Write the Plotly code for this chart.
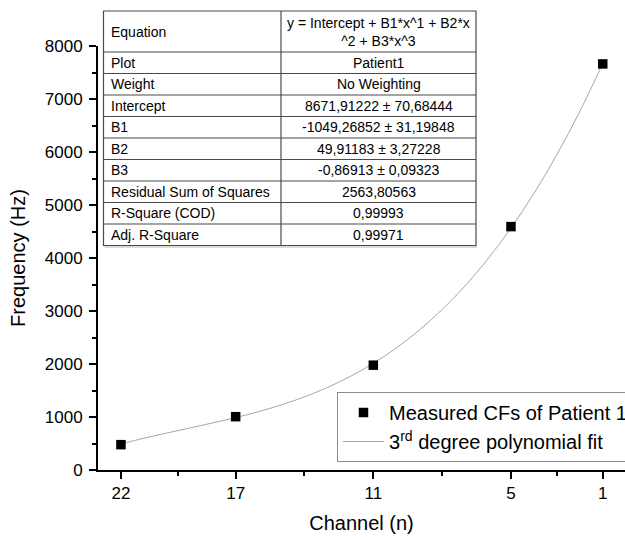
import plotly.graph_objects as go

# ---------------- data ----------------
channels = [22, 17, 11, 5, 1]
measured_cf = [478, 1006, 1978, 4592, 7662]

fit_channels = [1, 2, 3, 4, 5, 6, 7, 8, 9, 10, 11, 12, 13, 14, 15, 16, 17, 18, 19, 20, 21, 22]
fit_values = [7671.7, 6766.1, 5949.8, 5217.8, 4564.7, 3985.4, 3474.6, 3027.1, 2637.8, 2301.3,
              2012.5, 1766.1, 1557.0, 1380.0, 1229.7, 1101.1, 988.8, 887.7, 792.6, 698.2, 599.4, 490.9]

x_tick_vals = [22, 17, 11, 5, 1]
x_tick_text = ["22", "17", "11", "5", "1"]
x_minor_vals = [19.5, 14, 8, 3]

table_labels = ["Equation", "Plot", "Weight", "Intercept", "B1", "B2", "B3",
                "Residual Sum of Squares", "R-Square (COD)", "Adj. R-Square"]
table_values = ["y = Intercept + B1*x^1 + B2*x<br>^2 + B3*x^3", "Patient1", "No Weighting",
                "8671,91222 ± 70,68444", "-1049,26852 ± 31,19848", "49,91183 ± 3,27228",
                "-0,86913 ± 0,09323", "2563,80563", "0,99993", "0,99971"]

series_names = ["Measured CFs of Patient 1", "3<sup>rd</sup> degree polynomial fit"]

# ---------------- layout geometry (pixels) ----------------
W, H = 625, 537
ML, MR, MT, MB = 98, 0, 46, 67
PW, PH = W - ML - MR, H - MT - MB


def pxx(x):
    return (x - ML) / PW


def pxy(y):
    return (H - MB - y) / PH


FONT = "Liberation Sans, Arial, sans-serif"

fig = go.Figure()
fig.add_trace(go.Scatter(
    x=fit_channels, y=fit_values, mode="lines", name=series_names[1],
    line=dict(color="#a6a6a6", width=1, shape="spline"),
))
fig.add_trace(go.Scatter(
    x=channels, y=measured_cf, mode="markers", name=series_names[0],
    marker=dict(symbol="square", size=9.5, color="black"),
))

# ---------------- table (shapes + annotations) ----------------
tx0, txm, tx1 = 103.5, 281, 476
row_edges = [11, 52, 73.5, 95, 116.5, 138, 159.5, 181, 202.5, 224, 245.5]
shapes = []
line_col = "#4a4a4a"
# shadow line
shapes.append(dict(type="line", xref="paper", yref="paper",
                   x0=pxx(tx0 + 1), x1=pxx(tx1 + 1), y0=pxy(row_edges[-1] + 1.5), y1=pxy(row_edges[-1] + 1.5),
                   line=dict(color="#cfcfcf", width=1.5), layer="above"))
shapes.append(dict(type="rect", xref="paper", yref="paper",
                   x0=pxx(tx0), x1=pxx(tx1), y0=pxy(row_edges[-1]), y1=pxy(row_edges[0]),
                   line=dict(color=line_col, width=1.2), fillcolor="white", layer="above"))
for ye in row_edges[1:-1]:
    shapes.append(dict(type="line", xref="paper", yref="paper",
                       x0=pxx(tx0), x1=pxx(tx1), y0=pxy(ye), y1=pxy(ye),
                       line=dict(color=line_col, width=1.2), layer="above"))
shapes.append(dict(type="line", xref="paper", yref="paper",
                   x0=pxx(txm), x1=pxx(txm), y0=pxy(row_edges[-1]), y1=pxy(row_edges[0]),
                   line=dict(color=line_col, width=1.2), layer="above"))

annotations = []
for i, (lab, val) in enumerate(zip(table_labels, table_values)):
    yc = (row_edges[i] + row_edges[i + 1]) / 2
    annotations.append(dict(x=pxx(tx0 + 5), y=pxy(yc), xref="paper", yref="paper",
                            text=lab, showarrow=False, xanchor="left", yanchor="middle",
                            font=dict(family=FONT, size=14, color="black")))
    annotations.append(dict(x=pxx((txm + tx1) / 2), y=pxy(yc), xref="paper", yref="paper",
                            text=val, showarrow=False, xanchor="center", yanchor="middle",
                            align="center",
                            font=dict(family=FONT, size=14, color="black")))

fig.update_layout(
    width=W, height=H,
    margin=dict(l=ML, r=MR, t=MT, b=MB, autoexpand=False),
    paper_bgcolor="white", plot_bgcolor="white",
    font=dict(family=FONT, color="black"),
    shapes=shapes, annotations=annotations,
    showlegend=True,
    legend=dict(
        x=pxx(337), y=pxy(392), xanchor="left", yanchor="top",
        bgcolor="white", bordercolor="#8c8c8c", borderwidth=1,
        font=dict(family=FONT, size=20, color="black"),
        traceorder="reversed", itemwidth=41,
    ),
    xaxis=dict(
        range=[23.0, 0.03], tickmode="array", tickvals=x_tick_vals, ticktext=x_tick_text,
        ticks="outside", ticklen=7, tickwidth=1.5, tickcolor="black",
        showline=True, linecolor="black", linewidth=1.8, showgrid=False, zeroline=False,
        tickfont=dict(family=FONT, size=17, color="black"),
        minor=dict(tickmode="array", tickvals=x_minor_vals, ticks="outside", ticklen=4,
                   tickwidth=1.5, tickcolor="black", showgrid=False),
        title=dict(text="Channel (n)", font=dict(family=FONT, size=20, color="black"), standoff=14),
    ),
    yaxis=dict(
        range=[0, 8000], tickmode="linear", tick0=0, dtick=1000,
        ticks="outside", ticklen=7, tickwidth=1.5, tickcolor="black",
        showline=True, linecolor="black", linewidth=1.8, showgrid=False, zeroline=False,
        tickfont=dict(family=FONT, size=17, color="black"),
        ticklabelstandoff=3,
        minor=dict(tickmode="linear", tick0=0, dtick=500, ticks="outside", ticklen=4,
                   tickwidth=1.5, tickcolor="black", showgrid=False),
        title=dict(text="Frequency (Hz)", font=dict(family=FONT, size=20, color="black"), standoff=14),
    ),
)

fig.write_html("out.html")
